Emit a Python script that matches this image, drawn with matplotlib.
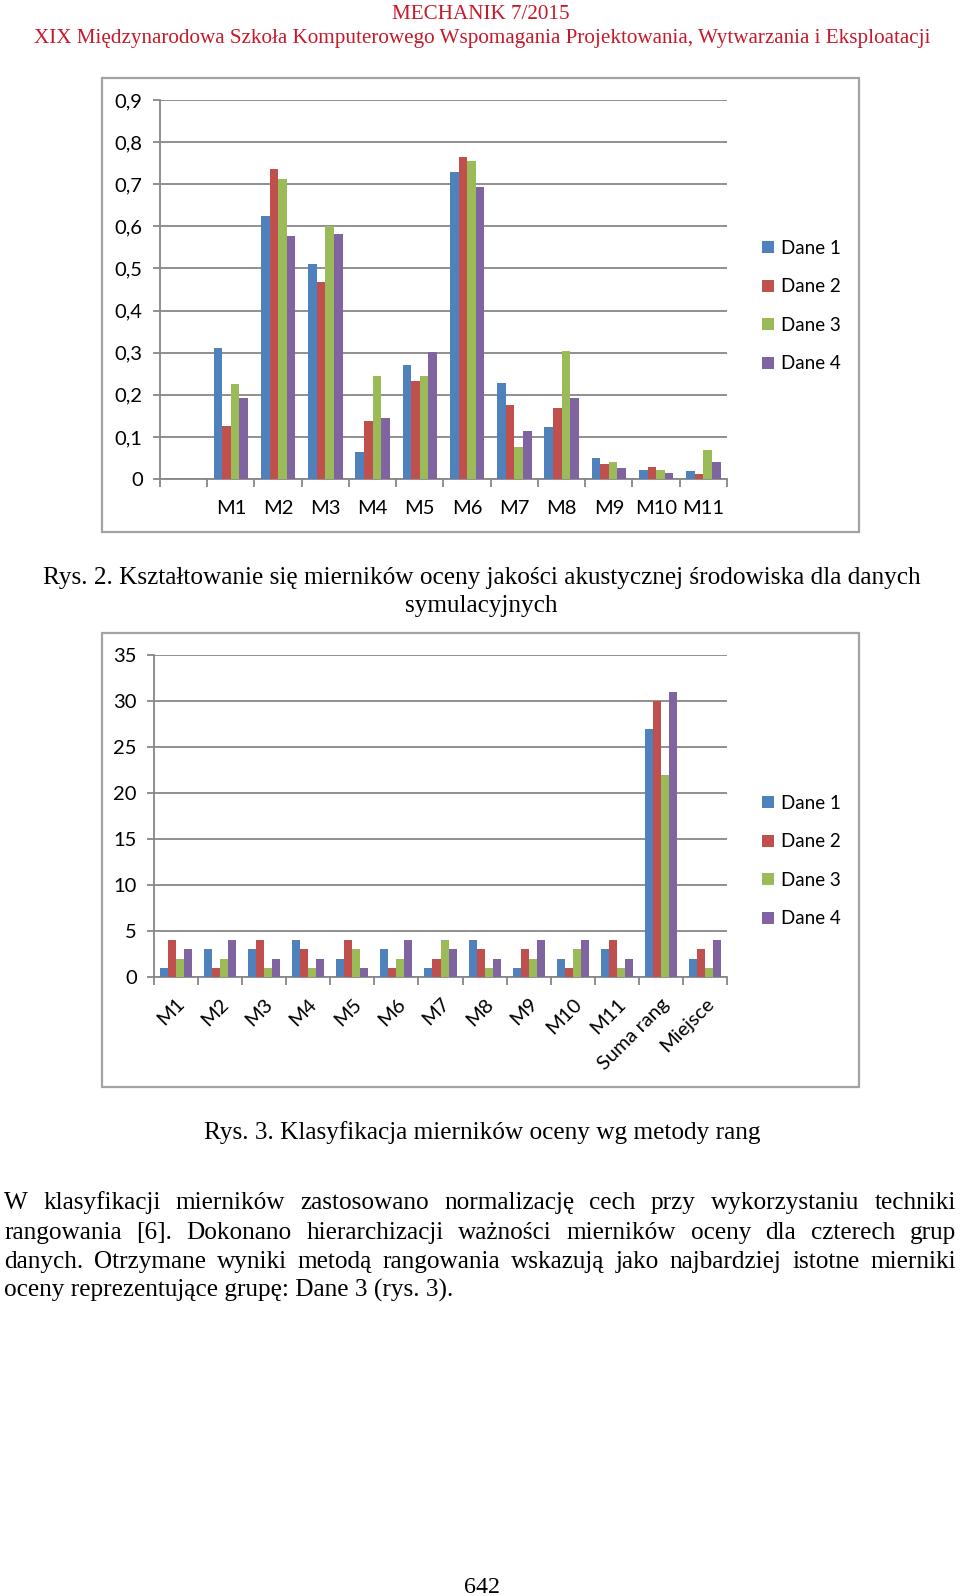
import numpy as np
import matplotlib
matplotlib.use('Agg')
import matplotlib.pyplot as plt
from matplotlib.patches import Rectangle, Patch
from matplotlib.transforms import ScaledTranslation

# ---------------- data ----------------
series = ['Dane 1', 'Dane 2', 'Dane 3', 'Dane 4']
colors = ['#4F81BD', '#C0504D', '#9BBB59', '#8064A2']

# Rys. 2 (first category slot is empty in the original chart)
cats1 = ['', 'M1', 'M2', 'M3', 'M4', 'M5', 'M6', 'M7', 'M8', 'M9', 'M10', 'M11']
r2_dane1 = [None, 0.312, 0.625, 0.511, 0.064, 0.270, 0.729, 0.228, 0.124, 0.051, 0.022, 0.020]
r2_dane2 = [None, 0.126, 0.737, 0.467, 0.138, 0.233, 0.765, 0.176, 0.168, 0.035, 0.029, 0.013]
r2_dane3 = [None, 0.226, 0.713, 0.600, 0.244, 0.244, 0.754, 0.077, 0.303, 0.040, 0.021, 0.069]
r2_dane4 = [None, 0.192, 0.578, 0.581, 0.144, 0.301, 0.694, 0.113, 0.193, 0.025, 0.015, 0.041]
yticks1 = [0, 0.1, 0.2, 0.3, 0.4, 0.5, 0.6, 0.7, 0.8, 0.9]
ylabels1 = ['0', '0,1', '0,2', '0,3', '0,4', '0,5', '0,6', '0,7', '0,8', '0,9']

# Rys. 3
cats2 = ['M1', 'M2', 'M3', 'M4', 'M5', 'M6', 'M7', 'M8', 'M9', 'M10', 'M11',
         'Suma rang', 'Miejsce']
r3_dane1 = [1, 3, 3, 4, 2, 3, 1, 4, 1, 2, 3, 27, 2]
r3_dane2 = [4, 1, 4, 3, 4, 1, 2, 3, 3, 1, 4, 30, 3]
r3_dane3 = [2, 2, 1, 1, 3, 2, 4, 1, 2, 3, 1, 22, 1]
r3_dane4 = [3, 4, 2, 2, 1, 4, 3, 2, 4, 4, 2, 31, 4]
yticks2 = [0, 5, 10, 15, 20, 25, 30, 35]
ylabels2 = ['0', '5', '10', '15', '20', '25', '30', '35']

header1 = 'MECHANIK 7/2015'
header2 = 'XIX Międzynarodowa Szkoła Komputerowego Wspomagania Projektowania, Wytwarzania i Eksploatacji'
caption2a = 'Rys. 2. Kształtowanie się mierników oceny jakości akustycznej środowiska dla danych'
caption2b = 'symulacyjnych'
caption3 = 'Rys. 3. Klasyfikacja mierników oceny wg metody rang'
paragraph = [
    'W klasyfikacji mierników zastosowano normalizację cech przy wykorzystaniu techniki',
    'rangowania [6]. Dokonano hierarchizacji ważności mierników oceny dla czterech grup',
    'danych. Otrzymane wyniki metodą rangowania wskazują jako najbardziej istotne mierniki',
    'oceny reprezentujące grupę: Dane 3 (rys. 3).',
]
page_no = '642'

# ---------------- layout ----------------
W, H = 960, 1596
fig = plt.figure(figsize=(W / 100, H / 100), dpi=100)
renderer = fig.canvas.get_renderer()

GRID = '#878787'
FRAME = '#a3a3a3'
CFONT = ['Lato', 'DejaVu Sans']
SERIF = ['Liberation Serif', 'DejaVu Serif']
FS = 14.5
LFS = 13.5


def prect(x0, y0, x1, y1):
    return [x0 / W, 1 - y1 / H, (x1 - x0) / W, (y1 - y0) / H]


def frame(x0, y0, x1, y1):
    fig.add_artist(Rectangle((x0 / W, 1 - y1 / H), (x1 - x0) / W, (y1 - y0) / H,
                             transform=fig.transFigure, fill=False,
                             ec=FRAME, lw=1.6))


def grouped_bars(ax, data, ncat):
    bw = 0.727 / 4
    for j, (vals, c, name) in enumerate(zip(data, colors, series)):
        xs = [i + 0.5 + (j - 1.5) * bw for i, v in enumerate(vals) if v is not None]
        hs = [v for v in vals if v is not None]
        ax.bar(xs, hs, width=bw, color=c, label=name, linewidth=0, zorder=3)


def style(ax, cats, yticks, ylabels, ypad, xlabpad, rot=0):
    n = len(cats)
    ax.set_xlim(0, n)
    ax.set_ylim(yticks[0], yticks[-1])
    ax.set_yticks(yticks, ylabels)
    ax.yaxis.grid(True, color=GRID, lw=1.3, zorder=0)
    ax.set_axisbelow(True)
    ax.patch.set_alpha(0)
    for s in ['top', 'right']:
        ax.spines[s].set_visible(False)
    for s in ['left', 'bottom']:
        ax.spines[s].set_color(GRID)
        ax.spines[s].set_linewidth(1.3)
    ax.tick_params(axis='y', length=5, width=1.3, color=GRID, pad=ypad,
                   labelsize=FS)
    ax.set_xticks(np.arange(n + 1))
    ax.tick_params(axis='x', which='major', length=6, width=1.3, color=GRID,
                   labelbottom=False)
    if rot:
        ax.set_xticks(np.arange(n) + 0.5, cats, minor=True, rotation=rot,
                      ha='right', rotation_mode='anchor')
        off = ScaledTranslation(5 / 100, 0, fig.dpi_scale_trans)
        for lab in ax.get_xticklabels(minor=True):
            lab.set_transform(lab.get_transform() + off)
    else:
        ax.set_xticks(np.arange(n) + 0.5, cats, minor=True)
    ax.tick_params(axis='x', which='minor', length=0, pad=xlabpad, labelsize=FS)
    for lab in ax.get_yticklabels() + ax.get_xticklabels(minor=True):
        lab.set_family(CFONT)


def legend(ycenter):
    handles = [Patch(fc=c, ec='none', label=s) for c, s in zip(colors, series)]
    fig.legend(handles=handles, loc='center left',
               bbox_to_anchor=(762 / W, 1 - ycenter / H), frameon=False,
               borderpad=0, borderaxespad=0, handlelength=0.62,
               handleheight=0.62, handletextpad=0.4, labelspacing=1.15,
               prop={'family': CFONT, 'size': LFS})


# ---- chart Rys. 2 ----
frame(102, 78, 859, 532)
ax1 = fig.add_axes(prect(160, 100, 727, 479))
grouped_bars(ax1, [r2_dane1, r2_dane2, r2_dane3, r2_dane4], len(cats1))
style(ax1, cats1, yticks1, ylabels1, ypad=7.5, xlabpad=15)
legend(306)

# ---- chart Rys. 3 ----
frame(102, 633, 859, 1087)
ax2 = fig.add_axes(prect(154, 655, 727, 977))
grouped_bars(ax2, [r3_dane1, r3_dane2, r3_dane3, r3_dane4], len(cats2))
style(ax2, cats2, yticks2, ylabels2, ypad=7.5, xlabpad=13, rot=45)
legend(861)


# ---------------- page text ----------------
def fitted(x, y, s, target_w, ha='center', color='black'):
    t = fig.text(x / W, 1 - y / H, s, fontsize=10, ha=ha, va='baseline',
                 family=SERIF, color=color)
    w = t.get_window_extent(renderer).width
    t.set_fontsize(10 * target_w / w)
    return t


RED = '#C8192B'
fitted(481, 19, header1, 178, color=RED)
fitted(482, 43, header2, 896, color=RED)
fitted(482, 584, caption2a, 882)
fitted(481, 612, caption2b, 153)
fitted(482, 1139, caption3, 557)
fitted(482, 1593, page_no, 36)

# justified paragraph
baselines = [1209, 1239, 1268, 1297]
t_last = fitted(4, baselines[-1], paragraph[-1], 448, ha='left')
pfs = t_last.get_fontsize()
left, right = 4, 956
for line, yb in zip(paragraph[:-1], baselines[:-1]):
    words = line.split(' ')
    texts = [fig.text(0, 1 - yb / H, w, fontsize=pfs, ha='left', va='baseline',
                      family=SERIF) for w in words]
    widths = [t.get_window_extent(renderer).width for t in texts]
    gap = (right - left - sum(widths)) / (len(words) - 1)
    x = left
    for t, wd in zip(texts, widths):
        t.set_x(x / W)
        x += wd + gap

fig.savefig('out.png', dpi=100, facecolor='white')
